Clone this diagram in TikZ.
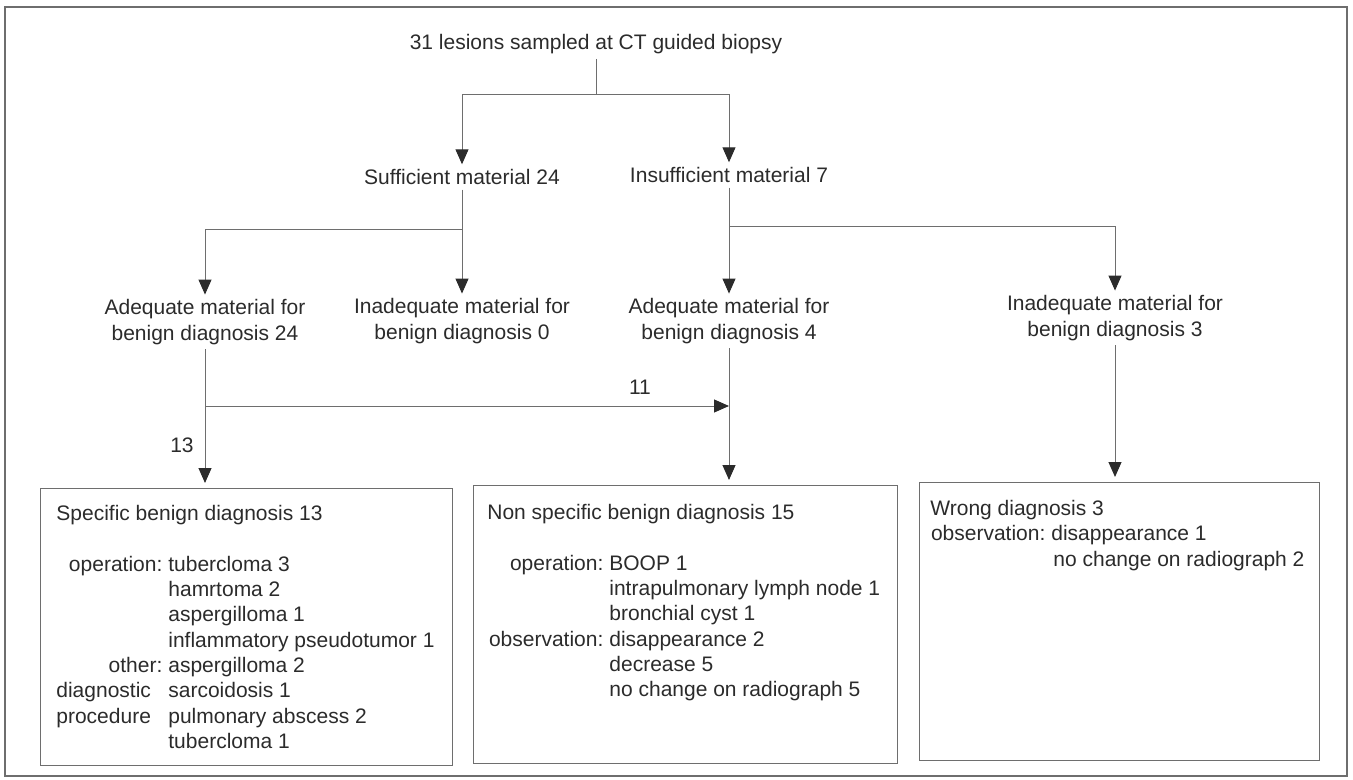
\documentclass[tikz,border=0pt]{standalone}
\usepackage{fontspec}
\setmainfont{Liberation Sans}
\usetikzlibrary{arrows.meta}
\definecolor{ink}{HTML}{2B2B2B}
\definecolor{linec}{HTML}{6E6E6E}
\newcommand\lrowr[3]{\makebox[#1][r]{#2}\hspace{3pt}#3}
\newcommand\lrowl[3]{\makebox[#1][l]{#2}\hspace{3pt}#3}
\begin{document}
\begin{tikzpicture}[x=0.5pt,y=-0.5pt,
  every node/.style={font=\fontsize{10.5}{12.65}\selectfont, text=ink},
  lbl/.style={inner sep=0pt, outer sep=2.5pt, align=center},
  conn/.style={draw=linec, line width=0.5pt},
  arr/.style={conn, -{Triangle[width=6.5pt,length=7.5pt,color=ink]}},
  boxn/.style={draw=linec, line width=0.6pt, rectangle, inner sep=0pt, anchor=north west},
  content/.style={anchor=north west, inner sep=0pt, align=left}]
\useasboundingbox (0,0) rectangle (1353,780);
\draw[draw=linec, line width=0.6pt] (5,7) rectangle (1347,776);

% text nodes
\node[lbl] (top) at (596,44) {31 lesions sampled at CT guided biopsy};
\node[lbl] (suf) at (462,177) {Sufficient material 24};
\node[lbl] (insuf) at (729,175) {Insufficient material 7};
\node[lbl] (ad24) at (205,322) {Adequate material for\\benign diagnosis 24};
\node[lbl] (inad0) at (462,321) {Inadequate material for\\benign diagnosis 0};
\node[lbl] (ad4) at (729,321) {Adequate material for\\benign diagnosis 4};
\node[lbl] (inad3) at (1115,318) {Inadequate material for\\benign diagnosis 3};
\node[lbl] (n13) at (182,445) {13};
\node[lbl] (n11) at (640,387) {11};

% boxes
\node[boxn, minimum width=206pt, minimum height=138.5pt] (box1) at (40,488) {};
\node[boxn, minimum width=212pt, minimum height=139pt] (box2) at (473,485) {};
\node[boxn, minimum width=200pt, minimum height=139pt] (box3) at (919,482) {};

\node[content] (c1) at (56,505) {Specific benign diagnosis 13\\[12.65pt]
\lrowr{53pt}{operation:}{tubercloma 3}\\
\lrowr{53pt}{}{hamrtoma 2}\\
\lrowr{53pt}{}{aspergilloma 1}\\
\lrowr{53pt}{}{inflammatory pseudotumor 1}\\
\lrowr{53pt}{other:}{aspergilloma 2}\\
\lrowl{53pt}{diagnostic}{sarcoidosis 1}\\
\lrowl{53pt}{procedure}{pulmonary abscess 2}\\
\lrowr{53pt}{}{tubercloma 1}};

\node[content] (c2) at (487,504) {Non specific benign diagnosis 15\\[12.65pt]
\lrowr{58pt}{operation:}{BOOP 1}\\
\lrowr{58pt}{}{intrapulmonary lymph node 1}\\
\lrowr{58pt}{}{bronchial cyst 1}\\
\lrowr{58pt}{observation:}{disappearance 2}\\
\lrowr{58pt}{}{decrease 5}\\
\lrowr{58pt}{}{no change on radiograph 5}};

\node[content] (c3) at (930,500) {Wrong diagnosis 3\\
\lrowr{57.5pt}{observation:}{disappearance 1}\\
\lrowr{57.5pt}{}{\hspace{1pt}no change on radiograph 2}};

% junctions
\coordinate (j1) at (596,95);
\coordinate (j2) at (462,230);
\coordinate (j3) at (729,227);
\coordinate (j4) at (205,406);

% connectors
\draw[conn] (top.south) -- (j1);
\draw[arr] (j1) -| (suf.north);
\draw[arr] (j1) -| (insuf.north);
\draw[conn] (suf.south) -- (j2);
\draw[arr] (j2) -- (inad0.north);
\draw[arr] (j2) -| (ad24.north);
\draw[arr] (insuf.south) -- (ad4.north);
\draw[arr] (j3) -| (inad3.north);
\draw[arr, shorten >=2.5pt] (ad24.south) -- (ad24.south |- box1.north);
\draw[arr] (j4) -- (j4 -| ad4.south);
\draw[arr, shorten >=2.5pt] (ad4.south) -- (ad4.south |- box2.north);
\draw[arr, shorten >=2.5pt] (inad3.south) -- (inad3.south |- box3.north);
\end{tikzpicture}
\end{document}
